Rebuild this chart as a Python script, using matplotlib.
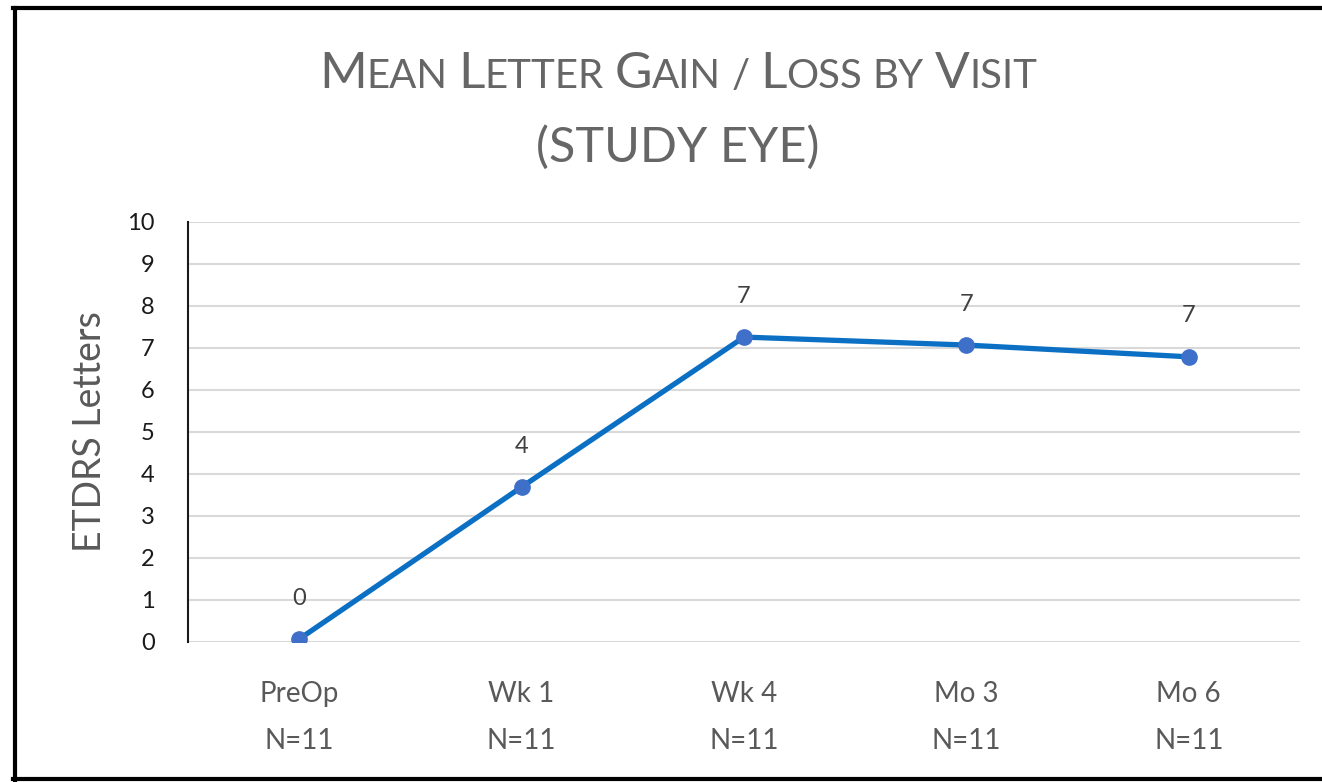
import matplotlib

matplotlib.use("Agg")
import matplotlib.pyplot as plt
from matplotlib.lines import Line2D
from matplotlib.transforms import IdentityTransform

visits = ["PreOp", "Wk 1", "Wk 4", "Mo 3", "Mo 6"]
n_counts = [11, 11, 11, 11, 11]
mean_gain = [0.07, 3.69, 7.26, 7.07, 6.79]
y_ticks = list(range(0, 11))

TITLE_WORDS = ["Mean", "Letter", "Gain", "/", "Loss", "by", "Visit"]
SUBTITLE = "(STUDY EYE)"

GRAY = "#595959"
TITLE_GRAY = "#666666"
BLUE = "#0B70C4"
MARKER = "#3E6FC9"
FONT = "Lato"

DPI = 100
W, H = 1322, 782

plt.rcParams["font.family"] = [FONT, "DejaVu Sans"]

fig = plt.figure(figsize=(W / DPI, H / DPI), dpi=DPI)
ax = fig.add_axes([188 / W, 1 - 642 / H, 1112 / W, 420 / H])

x = list(range(len(visits)))
ax.plot(x, mean_gain, color=BLUE, lw=3.8, solid_capstyle="round", zorder=3)
ax.plot(x, mean_gain, ls="none", marker="o", ms=11, color=MARKER,
        markeredgecolor=MARKER, zorder=4)
for xi, v in zip(x, mean_gain):
    ax.annotate(f"{v:.0f}", (xi, v), xytext=(0, 29.5), textcoords="offset points",
                ha="center", va="center", fontsize=17, color="#404040")

ax.set_xlim(-0.5, len(visits) - 0.5)
ax.set_ylim(0, 10)
ax.set_yticks(y_ticks)
ax.set_xticks(x)
ax.set_xticklabels([f"{v}\nN={n}" for v, n in zip(visits, n_counts)],
                   fontsize=20, color=GRAY, linespacing=2.0)
ax.tick_params(axis="x", length=0, pad=28)
ax.tick_params(axis="y", length=0, pad=24, labelsize=17, labelcolor="#1a1a1a")
ax.grid(axis="y", color="#D9D9D9", lw=1.5)
ax.set_axisbelow(True)
for side in ("top", "right", "bottom"):
    ax.spines[side].set_visible(False)
ax.spines["left"].set_color("#1a1a1a")
ax.spines["left"].set_linewidth(1.5)
ax.set_ylabel("ETDRS Letters", fontsize=27, color=GRAY, va="center")
ax.yaxis.set_label_coords(-0.088, 0.5)

# small-caps title built piece by piece
renderer = fig.canvas.get_renderer()
big, small = 37, 29
pieces = []
for word in TITLE_WORDS:
    if word[0].isupper():
        pieces.append((word[0], big))
        if len(word) > 1:
            pieces.append((word[1:].upper(), small))
    else:
        pieces.append((word.upper(), small))
    pieces.append((" ", None))
pieces = pieces[:-1]

gap = 0.26 * small * DPI / 72
texts, total = [], 0.0
for s, size in pieces:
    if size is None:
        texts.append((None, gap))
        total += gap
        continue
    t = fig.text(0, 0, s, fontsize=size, color=TITLE_GRAY,
                 ha="left", va="baseline", transform=IdentityTransform())
    w = t.get_window_extent(renderer).width
    texts.append((t, w))
    total += w

x0 = 678 - total / 2
base = H - 88
for t, w in texts:
    if t is not None:
        t.set_position((x0, base))
    x0 += w

fig.text(678, H - 162, SUBTITLE, fontsize=35, color=TITLE_GRAY,
         ha="center", va="baseline", transform=IdentityTransform())

# frame around the picture (left, top, bottom)
for xs, ys in [([15, 15], [2, 774]), ([13, W], [774, 774]), ([13, W], [3, 3])]:
    fig.add_artist(Line2D([v / W for v in xs], [v / H for v in ys], color="black",
                          lw=3, transform=fig.transFigure))

fig.savefig("out.png", dpi=DPI, facecolor="white")
